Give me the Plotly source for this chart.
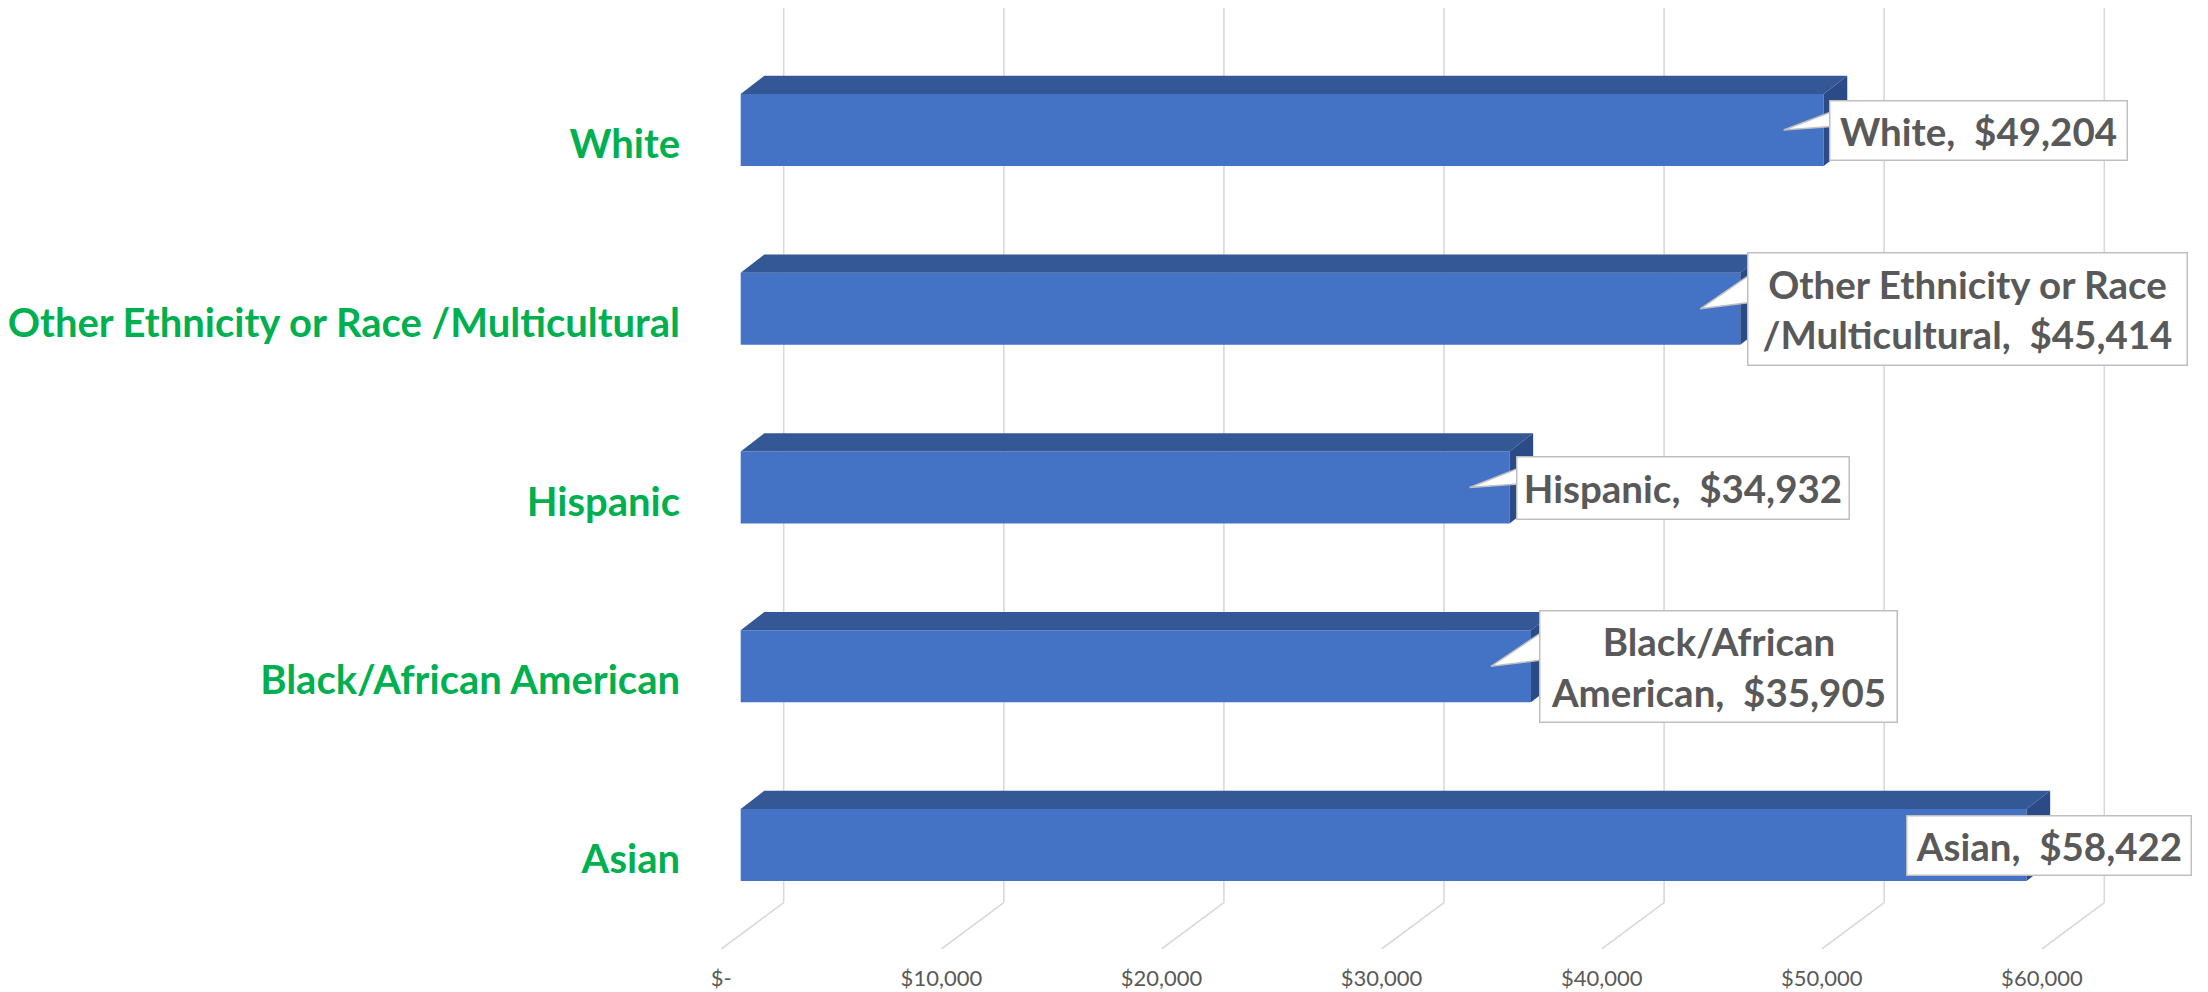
import plotly.graph_objects as go

# ---------------- data ----------------
categories = ["Asian", "Black/African American", "Hispanic",
              "Other Ethnicity or Race /Multicultural", "White"]
label_names = ["Asian", "Black/African<br>American", "Hispanic",
               "Other Ethnicity or Race<br>/Multicultural", "White"]
values = [58422, 35905, 34932, 45414, 49204]
tick_values = [0, 10000, 20000, 30000, 40000, 50000, 60000]
tick_labels = ["$-", "$10,000", "$20,000", "$30,000", "$40,000", "$50,000", "$60,000"]

# ---------------- styling / projection constants ----------------
PAGE_OFF = 8                        # default page body margin
PX_PER_USD = 0.02201
PX_PER_CAT = 178.75
BAR_SHIFT = 19.4 / PX_PER_USD      # bar front plane vs floor front edge
WALL_SHIFT = 62.4 / PX_PER_USD     # back wall vs floor front edge
DEPTH_X = 23.6 / PX_PER_USD        # bar depth (oblique projection)
DEPTH_Y = 18.3 / PX_PER_CAT
BAR_OFF = -0.1235
BAR_W = 0.403
WALL_BOTTOM = -0.2445
FLOOR = -0.5035
Y_MAX = (859 - PAGE_OFF) / PX_PER_CAT
WALL_TOP = Y_MAX

FRONT = "#4472C4"
TOP = "#345895"
SIDE = "#2B4B86"
GRID = "#D9D9D9"
TEXT = "#595959"
GREEN = "#00B050"
FONT = "Lato"

box_w = [286, 359, 334, 441, 299]
box_h = [61, 113, 64, 114, 61]
box_dx = [-121, 8, 6, 7, 5]
BORDER = 1.5
PAD = 4

ypos = list(range(len(categories)))

fig = go.Figure()

# back-wall gridlines with floor diagonals (behind everything)
for t in tick_values:
    fig.add_shape(type="line", xref="x", yref="y", layer="below",
                  x0=t + WALL_SHIFT, x1=t + WALL_SHIFT, y0=WALL_TOP, y1=WALL_BOTTOM,
                  line=dict(color=GRID, width=1.6))
    fig.add_shape(type="line", xref="x", yref="y", layer="below",
                  x0=t + WALL_SHIFT, x1=t, y0=WALL_BOTTOM, y1=FLOOR,
                  line=dict(color=GRID, width=1.6))

# front faces
fig.add_trace(go.Bar(orientation="h", y=ypos, x=values, base=BAR_SHIFT,
                     offset=BAR_OFF, width=BAR_W,
                     marker=dict(color=FRONT, line=dict(width=0)),
                     hoverinfo="skip", showlegend=False))

# top and side faces
tx, ty, sx, sy = [], [], [], []
for y, v in zip(ypos, values):
    x0 = BAR_SHIFT
    x1 = BAR_SHIFT + v
    yb = y + BAR_OFF
    yt = yb + BAR_W
    tx += [x0, x1, x1 + DEPTH_X, x0 + DEPTH_X, x0, None]
    ty += [yt, yt, yt + DEPTH_Y, yt + DEPTH_Y, yt, None]
    sx += [x1, x1, x1 + DEPTH_X, x1 + DEPTH_X, x1, None]
    sy += [yb, yt, yt + DEPTH_Y, yb + DEPTH_Y, yb, None]
fig.add_trace(go.Scatter(x=tx, y=ty, fill="toself", fillcolor=TOP, mode="lines",
                         line=dict(width=0, color=TOP), hoverinfo="skip", showlegend=False))
fig.add_trace(go.Scatter(x=sx, y=sy, fill="toself", fillcolor=SIDE, mode="lines",
                         line=dict(width=0, color=SIDE), hoverinfo="skip", showlegend=False))

# data labels (callout boxes)
for y, v, name, w, h, dx in zip(ypos, values, label_names, box_w, box_h, box_dx):
    xe = BAR_SHIFT + v
    yc = y + BAR_OFF + BAR_W / 2
    fig.add_shape(type="path", xref="x", yref="y", xsizemode="pixel", ysizemode="pixel",
                  xanchor=xe, yanchor=yc, layer="above",
                  path=f"M -40,0 L {dx + 6},{0.32 * h:.1f} L {dx + 6},{0.06 * h:.1f} Z",
                  fillcolor="white", line=dict(color="#BFBFBF", width=1.5))
    fig.add_annotation(x=xe, y=yc, xref="x", yref="y", xanchor="left", yanchor="middle",
                       xshift=dx, showarrow=False, align="center",
                       text=f"{name},&nbsp; ${v:,.0f}",
                       width=w - 2 * (BORDER + PAD), height=h - 2 * (BORDER + PAD),
                       bgcolor="white", bordercolor="#BFBFBF", borderwidth=BORDER, borderpad=PAD,
                       font=dict(family=FONT, size=38.5, color=TEXT, weight="bold"))

x_lo = (700 - 721.3) / PX_PER_USD
x_hi = (2208 - 721.3) / PX_PER_USD

fig.update_layout(
    width=2208 - PAGE_OFF, height=992 - PAGE_OFF,
    margin=dict(l=700 - PAGE_OFF, r=0, t=0, b=43),
    paper_bgcolor="white", plot_bgcolor="white",
    showlegend=False,
    xaxis=dict(range=[x_lo, x_hi], showgrid=False, zeroline=False, showline=False,
               tickvals=tick_values, ticktext=tick_labels, ticks="outside", ticklen=10,
               tickcolor="rgba(0,0,0,0)", tickfont=dict(family=FONT, size=22, color=TEXT)),
    yaxis=dict(range=[FLOOR, Y_MAX], showgrid=False, zeroline=False, showline=False,
               tickvals=ypos, ticktext=categories, ticks="outside", ticklen=11,
               tickcolor="rgba(0,0,0,0)",
               tickfont=dict(family=FONT, size=40, color=GREEN, weight="bold")),
)

fig.write_html("out.html")
